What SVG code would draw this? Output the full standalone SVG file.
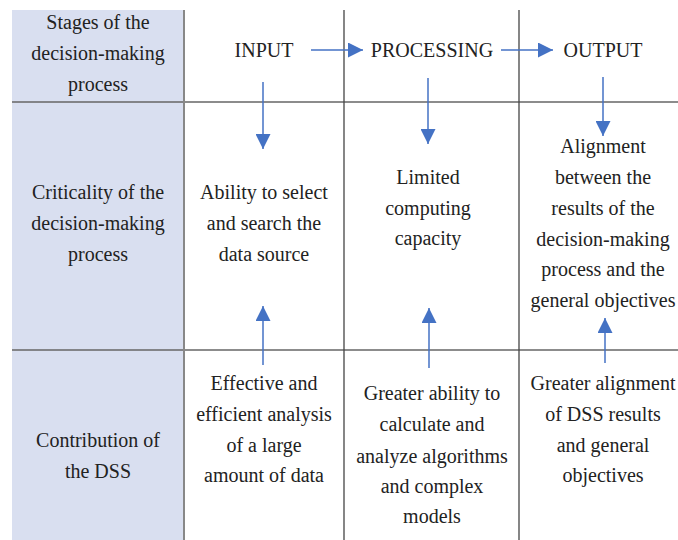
<svg xmlns="http://www.w3.org/2000/svg" width="678" height="540" viewBox="0 0 678 540">
<defs>
<marker id="ah" viewBox="0 0 10 10" refX="10" refY="5" markerWidth="15" markerHeight="15" markerUnits="userSpaceOnUse" orient="auto">
<path d="M0,0 L10,5 L0,10 z" fill="#4472C4"/>
</marker>
</defs>
<style>
.t text{font-family:'Times New Roman','Liberation Serif',Times,'Nimbus Roman','Noto Serif','DejaVu Serif',serif;font-size:20px;fill:#222;text-anchor:middle}
.grid{stroke:#666;stroke-width:1.6;fill:none}
.vline{stroke:#444;stroke-width:1.3;fill:none}
.arr{stroke:#4472C4;stroke-width:1.5;fill:none;marker-end:url(#ah)}
</style>
<rect width="678" height="540" fill="#fff"/>
<rect x="12" y="10" width="172" height="530" fill="#D9DFF0"/>
<g id="grid">
<line class="grid" x1="12" y1="102" x2="678" y2="102"/>
<line class="grid" x1="12" y1="350" x2="678" y2="350"/>
<line x1="184" y1="10" x2="184" y2="540" stroke="#888" stroke-width="2"/>
<line class="vline" x1="344" y1="10" x2="344" y2="540"/>
<line class="vline" x1="519" y1="10" x2="519" y2="540"/>
</g>
<g class="t">
<g id="row-headers">
<g id="h-stages"><text x="98" y="29">Stages of the</text><text x="98" y="60">decision-making</text><text x="98" y="91">process</text></g>
<g id="h-criticality"><text x="98" y="199">Criticality of the</text><text x="98" y="230">decision-making</text><text x="98" y="261">process</text></g>
<g id="h-contribution"><text x="98" y="447">Contribution of</text><text x="98" y="478">the DSS</text></g>
</g>
<g id="input"><text x="264" y="57">INPUT</text></g>
<g id="processing"><text x="432" y="57">PROCESSING</text></g>
<g id="output"><text x="603" y="57">OUTPUT</text></g>
<g id="crit-input"><text x="264" y="199">Ability to select</text><text x="264" y="230">and search the</text><text x="264" y="261">data source</text></g>
<g id="crit-processing"><text x="428" y="184">Limited</text><text x="428" y="215">computing</text><text x="428" y="245">capacity</text></g>
<g id="crit-output"><text x="603" y="153">Alignment</text><text x="603" y="184">between the</text><text x="603" y="215">results of the</text><text x="603" y="246">decision-making</text><text x="603" y="276">process and the</text><text x="603" y="307">general objectives</text></g>
<g id="dss-input"><text x="264" y="390">Effective and</text><text x="264" y="421">efficient analysis</text><text x="264" y="452">of a large</text><text x="264" y="482">amount of data</text></g>
<g id="dss-processing"><text x="432" y="400">Greater ability to</text><text x="432" y="431">calculate and</text><text x="432" y="463">analyze algorithms</text><text x="432" y="493">and complex</text><text x="432" y="523">models</text></g>
<g id="dss-output"><text x="603" y="390">Greater alignment</text><text x="603" y="421">of DSS results</text><text x="603" y="452">and general</text><text x="603" y="482">objectives</text></g>
</g>
<g id="connectors">
<line class="arr" x1="311" y1="50" x2="363" y2="50"/>
<line class="arr" x1="501" y1="50" x2="553" y2="50"/>
<line class="arr" x1="263" y1="82" x2="263" y2="149"/>
<line class="arr" x1="428" y1="78" x2="428" y2="144"/>
<line class="arr" x1="603" y1="77" x2="603" y2="136"/>
<line class="arr" x1="263" y1="365" x2="263" y2="306"/>
<line class="arr" x1="429" y1="368" x2="429" y2="308"/>
<line class="arr" x1="605" y1="363" x2="605" y2="318"/>
</g>
</svg>
